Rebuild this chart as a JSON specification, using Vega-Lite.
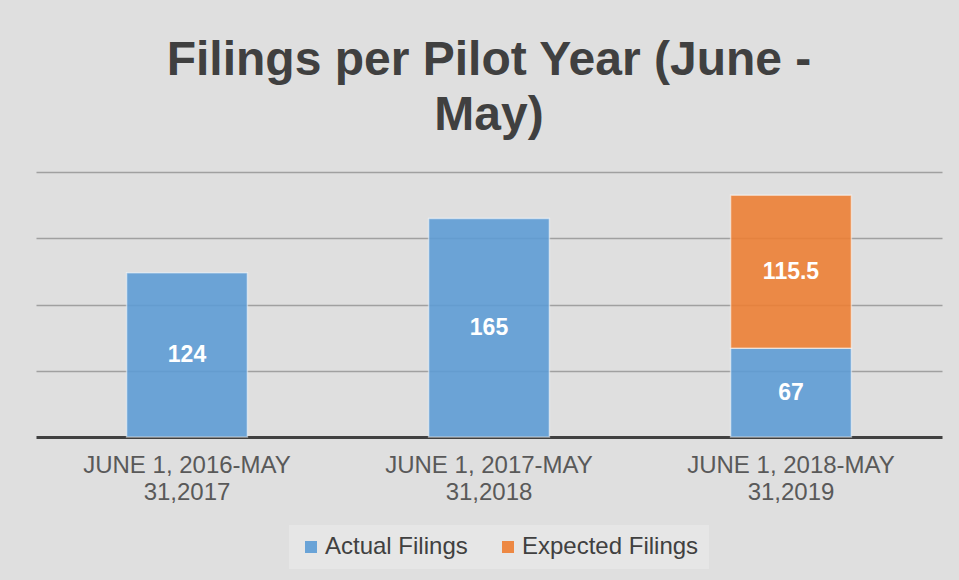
{
  "$schema": "https://vega.github.io/schema/vega-lite/v6.json",
  "width": 906,
  "height": 265,
  "autosize": {"type": "none"},
  "padding": {"left": 36, "top": 172, "right": 17, "bottom": 143},
  "background": "#dfdfdf",
  "title": {
    "text": ["Filings per Pilot Year (June -", "May)"],
    "font": "Liberation Sans",
    "fontSize": 48,
    "fontWeight": "bold",
    "color": "#404040",
    "lineHeight": 55,
    "anchor": "middle",
    "offset": 32
  },
  "config": {"view": {"stroke": null}},
  "data": {
    "values": [
      {"period": "JUNE 1, 2016-MAY 31,2017", "series": "Actual Filings", "filings": 124},
      {"period": "JUNE 1, 2017-MAY 31,2018", "series": "Actual Filings", "filings": 165},
      {"period": "JUNE 1, 2018-MAY 31,2019", "series": "Actual Filings", "filings": 67},
      {"period": "JUNE 1, 2018-MAY 31,2019", "series": "Expected Filings", "filings": 115.5}
    ]
  },
  "encoding": {
    "x": {
      "field": "period",
      "type": "nominal",
      "sort": null,
      "scale": {"paddingInner": 0.6, "paddingOuter": 0.3},
      "axis": {
        "title": null,
        "labelExpr": "[slice(datum.label,0,16), slice(datum.label,17)]",
        "labelFont": "Liberation Sans",
        "labelFontSize": 24,
        "labelColor": "#595959",
        "labelLineHeight": 27,
        "labelPadding": 16,
        "labelAngle": 0,
        "labelLimit": 0,
        "ticks": false,
        "domainColor": "#404040",
        "domainWidth": 3
      }
    }
  },
  "layer": [
    {
      "mark": {"type": "bar", "fillOpacity": 0.88, "stroke": "#ffffff", "strokeOpacity": 0.5, "strokeWidth": 1.5},
      "encoding": {
        "y": {
          "field": "filings",
          "type": "quantitative",
          "stack": "zero",
          "scale": {"domain": [0, 200]},
          "axis": {
            "values": [50, 100, 150, 200],
            "labels": false,
            "ticks": false,
            "domain": false,
            "title": null,
            "grid": true,
            "gridColor": "#a0a0a0",
            "gridWidth": 1.5
          }
        },
        "order": {"field": "series", "sort": "ascending"},
        "color": {
          "field": "series",
          "type": "nominal",
          "scale": {"domain": ["Actual Filings", "Expected Filings"], "range": ["#5b9bd5", "#ed7d31"]},
          "legend": {
            "orient": "none",
            "legendX": 253,
            "legendY": 353,
            "direction": "horizontal",
            "title": null,
            "fillColor": "#e6e6e6",
            "padding": 10,
            "labelFont": "Liberation Sans",
            "labelFontSize": 24,
            "labelColor": "#404040",
            "labelLimit": 400,
            "symbolType": "square",
            "symbolSize": 144,
            "symbolStrokeWidth": 0,
            "symbolOpacity": 0.9,
            "columnPadding": 28,
            "labelOffset": 2
          }
        }
      }
    },
    {
      "mark": {"type": "text", "font": "Liberation Sans", "fontSize": 23, "fontWeight": "bold", "color": "#ffffff", "baseline": "middle"},
      "encoding": {
        "y": {"field": "filings", "type": "quantitative", "stack": "zero", "bandPosition": 0.5},
        "detail": {"field": "series"},
        "order": {"field": "series", "sort": "ascending"},
        "text": {"field": "filings", "type": "quantitative"}
      }
    }
  ]
}
